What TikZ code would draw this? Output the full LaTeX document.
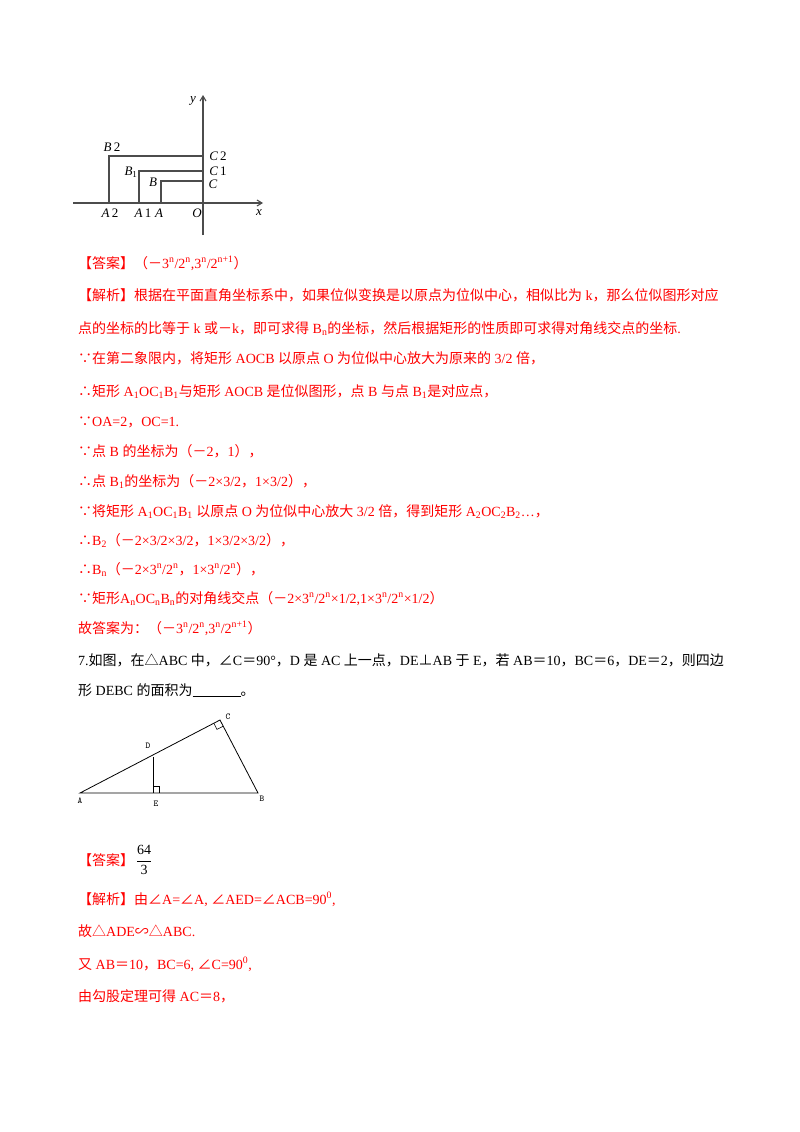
\documentclass[tikz,border=0pt]{standalone}
\usepackage{fontspec}
\setmainfont{Liberation Serif}
\newfontfamily\cjk{Noto Sans CJK SC}
\usetikzlibrary{arrows.meta}
\newcommand\zh[1]{{\cjk #1}}
\newcommand\sub[1]{\textsubscript{#1}}
\newcommand\sups[1]{\textsuperscript{#1}}
\begin{document}
\begin{tikzpicture}[x=1pt,y=-1pt,
 t/.style={anchor=base west,inner sep=0,font=\fontsize{14}{14}\selectfont},
 r/.style={t,text=red},
 lab/.style={inner sep=0,font=\fontsize{13}{13}\selectfont\itshape},
 ax/.style={gray!60!black,line width=1.1pt},
 tl/.style={inner sep=0,font=\fontsize{9}{9}\selectfont\ttfamily}]
\useasboundingbox[fill=white] (0,0) rectangle (800,1132);
% coordinate figure
\coordinate (xl) at (73,203); \coordinate (xr) at (263,203);
\coordinate (yb) at (203,235); \coordinate (yt) at (203,95);
\draw[ax,-{Straight Barb[length=5pt,width=6pt]}] (xl) -- (xr);
\draw[ax,-{Straight Barb[length=5pt,width=6pt]}] (yb) -- (yt);
\coordinate (A2) at (109,203); \coordinate (B2) at (109,156); \coordinate (C2) at (203,156);
\coordinate (A1) at (139,203); \coordinate (B1) at (139,171); \coordinate (C1) at (203,171);
\coordinate (A) at (161,203); \coordinate (B) at (161,181); \coordinate (C) at (203,181);
\draw[ax] (A2) -- (B2) -- (C2);
\draw[ax] (A1) -- (B1) -- (C1);
\draw[ax] (A) -- (B) -- (C);
\node[lab] (ly) at (193,101) {y};
\node[lab] (lb2) at (112,147) {B\,\upshape2};
\node[lab] (lb1) at (131,172) {B\sub{\upshape1}};
\node[lab] (lb) at (153,182) {B};
\node[lab] (lc2) at (218,156) {C\,\upshape2};
\node[lab] (lc1) at (218,171) {C\,\upshape1};
\node[lab] (lc) at (213,184) {C};
\node[lab] (la2) at (110,213) {A\,\upshape2};
\node[lab] (la1) at (143,213) {A\,\upshape1};
\node[lab] (la) at (159,213) {A};
\node[lab] (lo) at (197,213) {O};
\node[lab] (lx) at (259,213) {x};
% text block 1
\node[r] (l1) at (78,268) {\zh{【答案】（－}3\sups{n}/2\sups{n},3\sups{n}/2\sups{n+1}\zh{）}};
\node[r] (l2) at (78,300) {\zh{【解析】根据在平面直角坐标系中，如果位似变换是以原点为位似中心，相似比为} k\zh{，那么位似图形对应}};
\node[r] (l3) at (78,333) {\zh{点的坐标的比等于} k \zh{或－}k\zh{，即可求得} B\sub{n}\zh{的坐标，然后根据矩形的性质即可求得对角线交点的坐标}.};
\node[r] (l4) at (78,363) {\zh{∵在第二象限内，将矩形} AOCB \zh{以原点} O \zh{为位似中心放大为原来的} 3/2 \zh{倍，}};
\node[r] (l5) at (78,396) {\zh{∴矩形} A\sub1OC\sub1B\sub1\zh{与矩形} AOCB \zh{是位似图形，点} B \zh{与点} B\sub1\zh{是对应点，}};
\node[r] (l6) at (78,426) {\zh{∵}OA=2\zh{，}OC=1.};
\node[r] (l7) at (78,456) {\zh{∵点} B \zh{的坐标为（－}2\zh{，}1\zh{），}};
\node[r] (l8) at (78,486) {\zh{∴点} B\sub1\zh{的坐标为（－}2×3/2\zh{，}1×3/2\zh{），}};
\node[r] (l9) at (78,516) {\zh{∵将矩形} A\sub1OC\sub1B\sub1 \zh{以原点} O \zh{为位似中心放大} 3/2 \zh{倍，得到矩形} A\sub2OC\sub2B\sub2…\zh{，}};
\node[r] (l10) at (78,545) {\zh{∴}B\sub2\zh{（－}2×3/2×3/2\zh{，}1×3/2×3/2\zh{），}};
\node[r] (l11) at (78,574) {\zh{∴}B\sub{n}\zh{（－}2×3\sups{n}/2\sups{n}\zh{，}1×3\sups{n}/2\sups{n}\zh{），}};
\node[r] (l12) at (78,603) {\zh{∵矩形}A\sub{n}OC\sub{n}B\sub{n}\zh{的对角线交点（－}2×3\sups{n}/2\sups{n}×1/2,1×3\sups{n}/2\sups{n}×1/2\zh{）}};
\node[r] (l13) at (78,633) {\zh{故答案为：（－}3\sups{n}/2\sups{n},3\sups{n}/2\sups{n+1}\zh{）}};
% problem 7
\node[t] (p1) at (78,665) {7.\zh{如图，在△}ABC \zh{中，∠}C\zh{＝}90°\zh{，}D \zh{是} AC \zh{上一点，}DE\zh{⊥}AB \zh{于} E\zh{，若} AB\zh{＝}10\zh{，}BC\zh{＝}6\zh{，}DE\zh{＝}2\zh{，则四边}};
\node[t] (p2) at (78,695) {\zh{形} DEBC \zh{的面积为}\underline{\hspace{48pt}}\zh{。}};
% triangle
\coordinate (TA) at (80,793); \coordinate (TB) at (258,793); \coordinate (TC) at (220,720);
\coordinate (TD) at (153,757); \coordinate (TE) at (153,793);
\draw[line width=0.8pt] (TA) -- (TB) -- (TC) -- cycle;
\draw[line width=1pt] (TD) -- (TE);
\draw[line width=0.6pt] (213.8,723.2) -- (217.0,729.4) -- (223.2,726.2);
\draw[line width=0.6pt] (153,786) -- (159,786) -- (159,793);
\node[tl] (tlc) at (228,717) {C};
\node[tl] (tld) at (148,746) {D};
\node[tl] (tla) at (80,801) {A};
\node[tl] (tle) at (156,804) {E};
\node[tl] (tlb) at (262,799) {B};
% answer 7
\node[r] (a1) at (78,865) {\zh{【答案】}};
\node[inner sep=0,font=\fontsize{14}{14}\selectfont] (fr) at (144,860) {$\displaystyle\frac{\mbox{64}}{\mbox{3}}$};
\node[r] (a2) at (78,904) {\zh{【解析】由∠}A=\zh{∠}A, \zh{∠}AED=\zh{∠}ACB=90\sups0,};
\node[r] (a3) at (78,936) {\zh{故△}ADE\zh{∽△}ABC.};
\node[r] (a4) at (78,969) {\zh{又} AB\zh{＝}10\zh{，}BC=6, \zh{∠}C=90\sups0,};
\node[r] (a5) at (78,1001) {\zh{由勾股定理可得} AC\zh{＝}8\zh{，}};
\end{tikzpicture}
\end{document}
